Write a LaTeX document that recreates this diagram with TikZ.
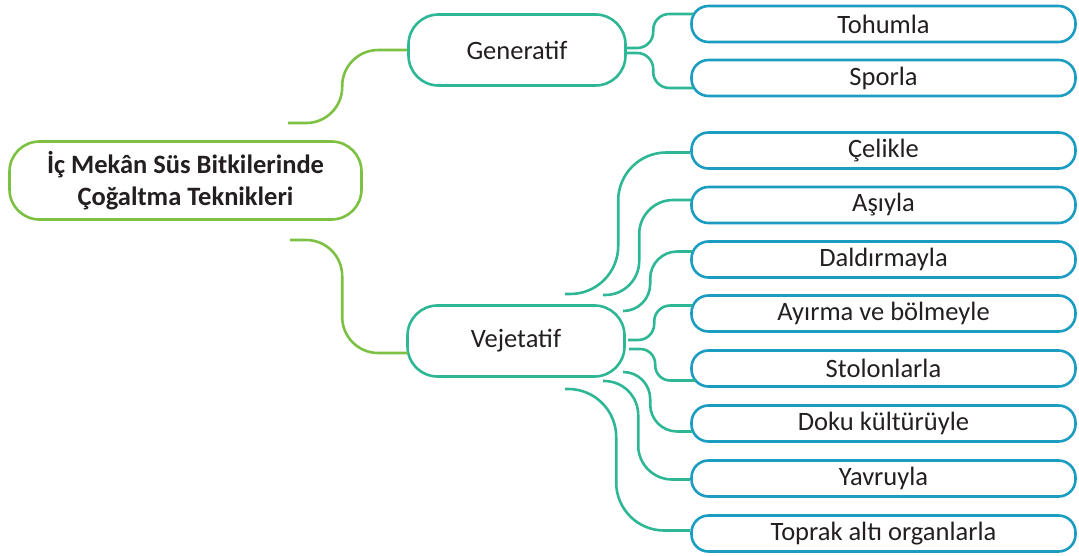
\documentclass[tikz,border=0pt]{standalone}
\usepackage{fontspec}
\setmainfont{Carlito}
\definecolor{rootgreen}{HTML}{7DC142}
\definecolor{branchteal}{HTML}{2DB794}
\definecolor{leafblue}{HTML}{1B9CC1}
\definecolor{txtgray}{HTML}{231F20}
\tikzset{
  rootbox/.style={draw=rootgreen,line width=2.6pt,rounded corners=30pt,minimum width=352pt,minimum height=78pt,inner sep=0pt,align=center,text=txtgray,font=\fontsize{26.5}{32}\selectfont\bfseries},
  branchbox/.style={draw=branchteal,line width=2.6pt,rounded corners=30pt,minimum width=217pt,minimum height=71pt,inner sep=0pt,text=txtgray,font=\fontsize{26.5}{30}\selectfont},
  leafbox/.style={draw=leafblue,line width=2.6pt,rounded corners=17pt,minimum width=384pt,minimum height=36pt,inner sep=0pt,text=txtgray,font=\fontsize{26.5}{30}\selectfont},
  gline/.style={draw=rootgreen,line width=2.6pt},
  tline/.style={draw=branchteal,line width=2.6pt}
}
\begin{document}
\begin{tikzpicture}[x=1pt,y=-1pt]
\useasboundingbox (0,0) rectangle (1079,556);
\node[rootbox] (root) at (185.5,180.5) {İç Mekân Süs Bitkilerinde\\Çoğaltma Teknikleri};
\node[branchbox] (gen) at (517,50) {Generatif};
\node[branchbox] (vej) at (516,341) {Vejetatif};
\node[leafbox] (g1) at (883.5,24) {Tohumla};
\node[leafbox] (g2) at (883.5,78) {Sporla};
\node[leafbox] (v1) at (883.5,150.5) {Çelikle};
\node[leafbox] (v2) at (883.5,205) {Aşıyla};
\node[leafbox] (v3) at (883.5,259.5) {Daldırmayla};
\node[leafbox] (v4) at (883.5,313.5) {Ayırma ve bölmeyle};
\node[leafbox] (v5) at (883.5,368.5) {Stolonlarla};
\node[leafbox] (v6) at (883.5,423.5) {Doku kültürüyle};
\node[leafbox] (v7) at (883.5,478.5) {Yavruyla};
\node[leafbox] (v8) at (883.5,533.5) {Toprak altı organlarla};

% root branches
\coordinate (r1) at (288,123);
\coordinate (r2) at (290,240);
\coordinate (ve) at ([xshift=2pt,yshift=-12pt]vej.west);
\draw[gline,rounded corners=36pt] (r1) -| ([xshift=-65pt]gen.west) -- (gen.west);
\draw[gline,rounded corners=36pt] (r2) -| ([xshift=-66pt]ve) -- (ve);

% generatif
\coordinate (gs1) at ([yshift=2pt]gen.east);
\coordinate (gs2) at ([yshift=-3pt]gen.east);
\coordinate (ge1) at ([xshift=3pt,yshift=10pt]g1.west);
\coordinate (ge2) at ([xshift=3pt,yshift=-10pt]g2.west);
\draw[tline,rounded corners=16pt] (gs1) -| ([xshift=-40pt]ge1) -- (ge1);
\draw[tline,rounded corners=16pt] (gs2) -| ([xshift=-40pt]ge2) -- (ge2);

% vejetatif
\coordinate (vs1) at (565,294);
\coordinate (vs2) at (603,295);
\coordinate (vs3) at (623,311);
\coordinate (vs4) at (628,340);
\coordinate (vs5) at (629,349);
\coordinate (vs6) at (623,372);
\coordinate (vs7) at (603,381);
\coordinate (vs8) at (565,389);
\coordinate (ve1) at ([yshift=-2pt]v1.west);
\coordinate (ve2) at ([xshift=1pt,yshift=5pt]v2.west);
\coordinate (ve3) at ([xshift=2pt,yshift=8pt]v3.west);
\coordinate (ve4) at ([xshift=2pt,yshift=8pt]v4.west);
\coordinate (ve5) at ([xshift=5pt,yshift=-12pt]v5.west);
\coordinate (ve6) at ([xshift=2pt,yshift=-8pt]v6.west);
\coordinate (ve7) at ([yshift=-1pt]v7.west);
\coordinate (ve8) at ([yshift=3pt]v8.west);
\draw[tline,rounded corners=48pt] (vs1) -| ([xshift=-72pt]ve1) -- (ve1);
\draw[tline,rounded corners=34pt] (vs2) -| ([xshift=-52pt]ve2) -- (ve2);
\draw[tline,rounded corners=27pt] (vs3) -| ([xshift=-42pt]ve3) -- (ve3);
\draw[tline,rounded corners=16pt] (vs4) -| ([xshift=-38pt]ve4) -- (ve4);
\draw[tline,rounded corners=15pt] (vs5) -| ([xshift=-40pt]ve5) -- (ve5);
\draw[tline,rounded corners=27pt] (vs6) -| ([xshift=-42pt]ve6) -- (ve6);
\draw[tline,rounded corners=34pt] (vs7) -| ([xshift=-52pt]ve7) -- (ve7);
\draw[tline,rounded corners=48pt] (vs8) -| ([xshift=-74pt]ve8) -- (ve8);
\end{tikzpicture}
\end{document}
